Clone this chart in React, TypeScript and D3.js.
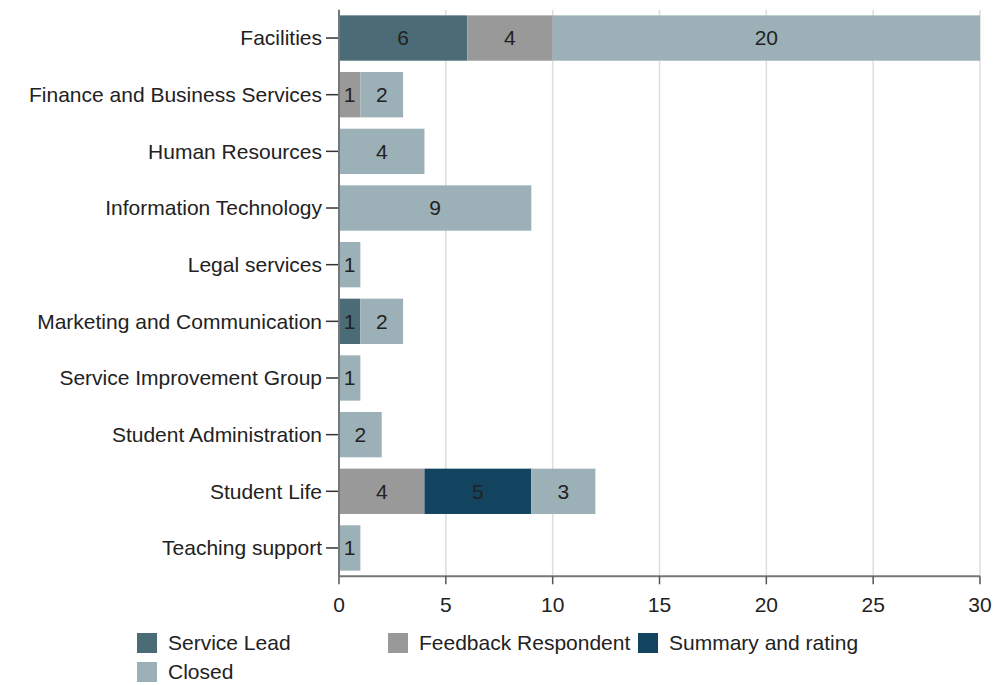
import React from "react";
import * as d3 from "d3";

const categories = [
  "Facilities",
  "Finance and Business Services",
  "Human Resources",
  "Information Technology",
  "Legal services",
  "Marketing and Communication",
  "Service Improvement Group",
  "Student Administration",
  "Student Life",
  "Teaching support",
];
const seriesNames = ["Service Lead", "Feedback Respondent", "Summary and rating", "Closed"];
const serviceLead = [6, 0, 0, 0, 0, 1, 0, 0, 0, 0];
const feedbackRespondent = [4, 1, 0, 0, 0, 0, 0, 0, 4, 0];
const summaryAndRating = [0, 0, 0, 0, 0, 0, 0, 0, 5, 0];
const closed = [20, 2, 4, 9, 1, 2, 1, 2, 3, 1];
const xTicks = [0, 5, 10, 15, 20, 25, 30];
const colors = ["#4b6b76", "#999999", "#124460", "#9bb1b7"];

export default function App() {
  const W = 1005, H = 685;
  const left = 339, right = 980, top = 9.7, bottom = 576.3;
  const fs = 21;
  const x = d3.scaleLinear().domain([0, 30]).range([left, right]);
  const y = d3.scaleBand().domain(categories).range([top, bottom]).paddingInner(0.2).paddingOuter(0.1);
  const rows = categories.map((c, i) => ({
    cat: c,
    vals: [serviceLead[i], feedbackRespondent[i], summaryAndRating[i], closed[i]],
  }));
  const font = "'Liberation Sans', Arial, sans-serif";
  const legendPos = [
    { x: 137, y: 633 },
    { x: 388, y: 633 },
    { x: 638, y: 633 },
    { x: 137, y: 662 },
  ];
  return (
    <svg width={W} height={H} style={{ position: "absolute", left: 0, top: 0, background: "#fff" }} fontFamily={font}>
      {xTicks.map((t) => (
        <line key={"g" + t} x1={x(t)} x2={x(t)} y1={top} y2={bottom} stroke="#dddddd" strokeWidth={1.5} />
      ))}
      {rows.map((r) => {
        let acc = 0;
        const by = y(r.cat)!;
        return (
          <g key={r.cat}>
            {r.vals.map((v, k) => {
              const x0 = acc;
              acc += v;
              if (!v) return null;
              return (
                <g key={k}>
                  <rect x={x(x0)} y={by} width={x(x0 + v) - x(x0)} height={y.bandwidth()} fill={colors[k]} />
                  <text x={(x(x0) + x(x0 + v)) / 2} y={by + y.bandwidth() / 2} dy="0.35em" textAnchor="middle" fontSize={fs} fill="#222">
                    {v}
                  </text>
                </g>
              );
            })}
            <line x1={left - 13} x2={left} y1={by + y.bandwidth() / 2} y2={by + y.bandwidth() / 2} stroke="#333" strokeWidth={1.5} />
            <text x={left - 17} y={by + y.bandwidth() / 2} dy="0.35em" textAnchor="end" fontSize={fs} fill="#222">
              {r.cat}
            </text>
          </g>
        );
      })}
      <line x1={left} x2={left} y1={top} y2={bottom} stroke="#777" strokeWidth={2} />
      <line x1={left} x2={right} y1={bottom} y2={bottom} stroke="#777" strokeWidth={2} />
      {xTicks.map((t) => (
        <g key={"t" + t}>
          <line x1={x(t)} x2={x(t)} y1={bottom} y2={bottom + 8} stroke="#555" strokeWidth={1.5} />
          <text x={x(t)} y={bottom + 36} textAnchor="middle" fontSize={fs} fill="#222">
            {t}
          </text>
        </g>
      ))}
      {seriesNames.map((s, k) => (
        <g key={s}>
          <rect x={legendPos[k].x} y={legendPos[k].y} width={20} height={20} fill={colors[k]} />
          <text x={legendPos[k].x + 31} y={legendPos[k].y + 10} dy="0.35em" fontSize={fs} fill="#222">
            {s}
          </text>
        </g>
      ))}
    </svg>
  );
}
